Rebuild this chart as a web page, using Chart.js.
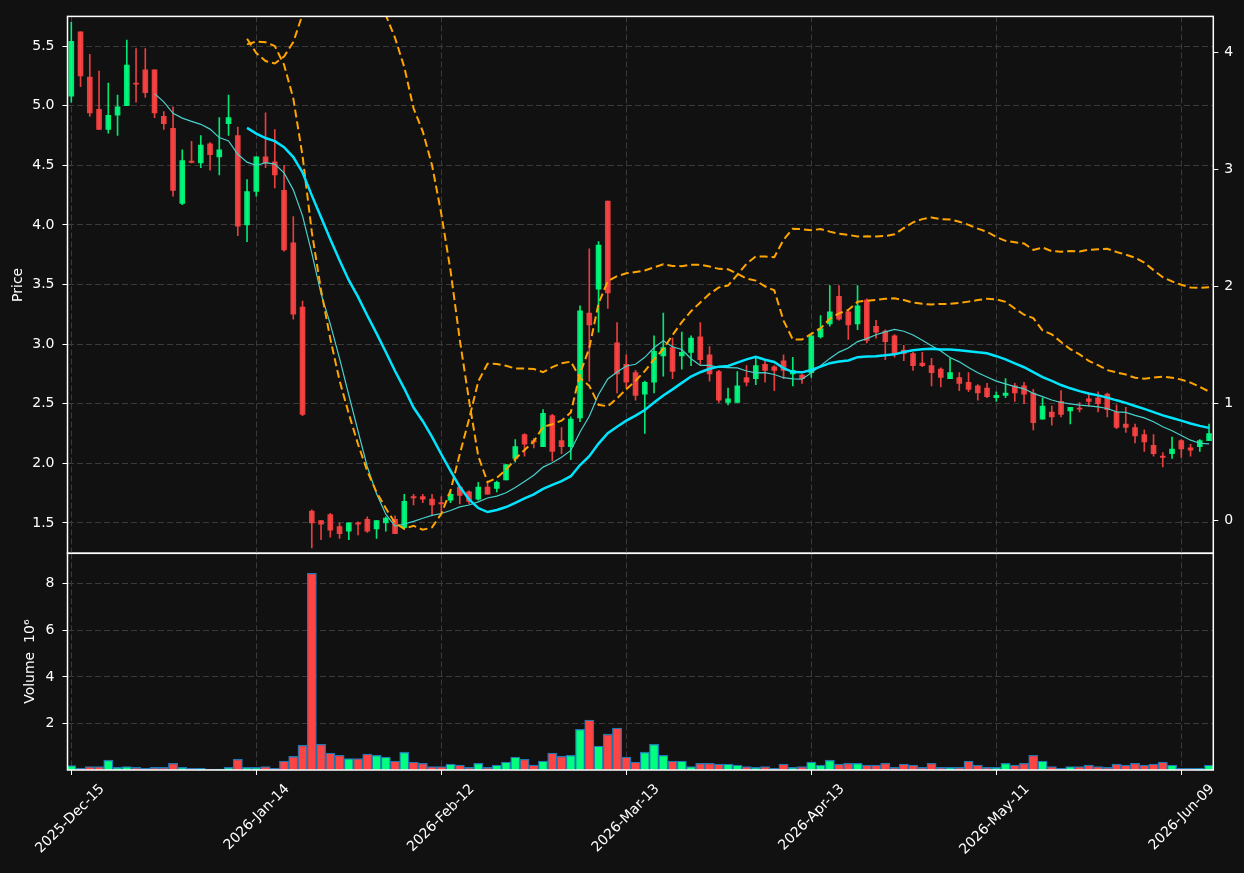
<!DOCTYPE html>
<html>
<head>
<meta charset="utf-8">
<script src="https://cdn.jsdelivr.net/npm/chart.js@4.4.1/dist/chart.umd.min.js"></script>
<style>
  html, body { margin: 0; padding: 0; background: #111111; }
  #wrap { position: relative; width: 1244px; height: 873px; background: #111111; }
  #wrap canvas { position: absolute; left: 0; top: 0; }
</style>
</head>
<body>
<div id="wrap">
  <canvas id="volChart" width="1244" height="873"></canvas>
  <canvas id="priceChart" width="1244" height="873"></canvas>
</div>
<script>
// x tick labels, one every 20 trading days
const tickLabels = ['2025-Dec-15', '2026-Jan-14', '2026-Feb-12', '2026-Mar-13', '2026-Apr-13', '2026-May-11', '2026-Jun-09'];
const priceTicks = [1.5, 2.0, 2.5, 3.0, 3.5, 4.0, 4.5, 5.0, 5.5];
const bandTicks = [0, 1, 2, 3, 4];
const volTicks = [2, 4, 6, 8];

// daily OHLC
const opens = [5.08, 5.62, 5.24, 4.97, 4.80, 4.92, 5.00, 5.19, 5.30, 5.30,
  4.91, 4.81, 4.18, 4.535, 4.52, 4.68, 4.57, 4.85, 4.75, 4.00,
  4.28, 4.57, 4.53, 4.29, 3.85, 3.31, 1.60, 1.52, 1.57, 1.47,
  1.43, 1.50, 1.53, 1.45, 1.50, 1.53, 1.46, 1.72, 1.72, 1.70,
  1.67, 1.69, 1.80, 1.76, 1.70, 1.80, 1.79, 1.86, 2.04, 2.24,
  2.19, 2.14, 2.40, 2.19, 2.14, 2.38, 3.26, 3.46, 4.20, 3.01,
  2.83, 2.76, 2.58, 2.68, 2.90, 2.97, 2.90, 2.93, 3.06, 2.91,
  2.77, 2.51, 2.51, 2.72, 2.71, 2.83, 2.81, 2.86, 2.75, 2.74,
  2.76, 3.06, 3.17, 3.40, 3.27, 3.17, 3.37, 3.15, 3.11, 3.07,
  2.95, 2.92, 2.84, 2.82, 2.79, 2.71, 2.72, 2.68, 2.65, 2.63,
  2.55, 2.57, 2.65, 2.65, 2.59, 2.37, 2.43, 2.52, 2.44, 2.46,
  2.54, 2.55, 2.58, 2.43, 2.33, 2.30, 2.24, 2.15, 2.06, 2.08,
  2.19, 2.13, 2.14, 2.19];
const highs = [5.70, 5.62, 5.43, 5.29, 5.19, 5.09, 5.55, 5.48, 5.48, 5.30,
  4.95, 4.99, 4.63, 4.70, 4.75, 4.69, 4.90, 5.09, 4.82, 4.38,
  4.57, 4.94, 4.80, 4.50, 4.07, 3.36, 1.61, 1.52, 1.58, 1.50,
  1.50, 1.51, 1.55, 1.52, 1.55, 1.56, 1.74, 1.74, 1.74, 1.74,
  1.72, 1.76, 1.81, 1.77, 1.84, 1.84, 1.85, 1.99, 2.20, 2.25,
  2.21, 2.45, 2.41, 2.30, 2.39, 3.32, 3.80, 3.86, 4.20, 3.18,
  2.91, 2.78, 2.69, 3.07, 3.26, 3.05, 3.10, 3.07, 3.18, 2.98,
  2.78, 2.63, 2.77, 2.82, 2.88, 2.86, 2.82, 2.91, 2.89, 2.75,
  3.07, 3.24, 3.49, 3.49, 3.28, 3.49, 3.38, 3.20, 3.12, 3.08,
  2.99, 2.93, 2.93, 2.88, 2.80, 2.88, 2.76, 2.76, 2.66, 2.67,
  2.60, 2.71, 2.67, 2.68, 2.62, 2.55, 2.48, 2.61, 2.47, 2.51,
  2.59, 2.60, 2.59, 2.49, 2.47, 2.33, 2.28, 2.24, 2.09, 2.22,
  2.20, 2.16, 2.20, 2.33];
const lows = [5.03, 5.16, 4.91, 4.80, 4.77, 4.75, 5.00, 5.03, 5.07, 4.90,
  4.80, 4.24, 4.17, 4.52, 4.48, 4.46, 4.42, 4.75, 3.91, 3.86,
  4.24, 4.48, 4.31, 3.78, 3.21, 2.40, 1.29, 1.36, 1.38, 1.37,
  1.36, 1.40, 1.42, 1.37, 1.43, 1.41, 1.45, 1.65, 1.67, 1.57,
  1.59, 1.67, 1.66, 1.66, 1.69, 1.74, 1.76, 1.86, 2.01, 2.06,
  2.13, 2.14, 2.02, 2.08, 2.03, 2.35, 2.69, 3.10, 3.30, 2.59,
  2.63, 2.53, 2.25, 2.59, 2.73, 2.71, 2.79, 2.82, 2.83, 2.69,
  2.51, 2.49, 2.51, 2.65, 2.66, 2.68, 2.61, 2.71, 2.65, 2.67,
  2.72, 3.05, 3.15, 3.20, 3.04, 3.12, 3.01, 3.05, 2.87, 2.89,
  2.86, 2.78, 2.81, 2.65, 2.64, 2.71, 2.61, 2.60, 2.53, 2.55,
  2.52, 2.55, 2.52, 2.50, 2.28, 2.37, 2.32, 2.39, 2.33, 2.43,
  2.48, 2.43, 2.39, 2.29, 2.26, 2.17, 2.10, 2.06, 1.97, 2.04,
  2.05, 2.06, 2.10, 2.19];
const closes = [5.54, 5.25, 4.94, 4.80, 4.92, 4.99, 5.34, 5.18, 5.11, 4.94,
  4.85, 4.29, 4.54, 4.525, 4.67, 4.59, 4.63, 4.90, 3.99, 4.28,
  4.57, 4.52, 4.42, 3.79, 3.25, 2.41, 1.50, 1.49, 1.44, 1.41,
  1.50, 1.49, 1.43, 1.52, 1.54, 1.41, 1.68, 1.71, 1.70, 1.65,
  1.66, 1.74, 1.73, 1.68, 1.80, 1.74, 1.84, 1.99, 2.14, 2.16,
  2.18, 2.42, 2.10, 2.14, 2.37, 3.28, 3.16, 3.83, 3.43, 2.75,
  2.68, 2.57, 2.68, 2.94, 2.97, 2.77, 2.93, 3.05, 2.87, 2.75,
  2.53, 2.54, 2.65, 2.68, 2.82, 2.78, 2.78, 2.78, 2.78, 2.71,
  3.07, 3.13, 3.27, 3.21, 3.16, 3.32, 3.03, 3.10, 3.02, 2.92,
  2.92, 2.82, 2.82, 2.76, 2.72, 2.76, 2.67, 2.62, 2.59, 2.56,
  2.57, 2.59, 2.59, 2.58, 2.34, 2.48, 2.39, 2.41, 2.47, 2.455,
  2.52, 2.50, 2.45, 2.30, 2.30, 2.23, 2.18, 2.08, 2.05, 2.12,
  2.12, 2.11, 2.19, 2.25];
// volume in millions
const volumes = [0.22, 0.11, 0.18, 0.18, 0.45, 0.14, 0.18, 0.14, 0.10, 0.14,
  0.14, 0.32, 0.14, 0.10, 0.10, 0.07, 0.07, 0.14, 0.49, 0.14,
  0.14, 0.18, 0.10, 0.41, 0.61, 1.09, 8.43, 1.13, 0.75, 0.66,
  0.52, 0.52, 0.71, 0.66, 0.58, 0.41, 0.79, 0.37, 0.32, 0.18,
  0.18, 0.28, 0.24, 0.14, 0.32, 0.14, 0.24, 0.37, 0.58, 0.49,
  0.24, 0.41, 0.75, 0.62, 0.66, 1.77, 2.16, 1.05, 1.56, 1.82,
  0.58, 0.37, 0.79, 1.13, 0.66, 0.41, 0.41, 0.18, 0.32, 0.32,
  0.28, 0.28, 0.24, 0.18, 0.14, 0.18, 0.10, 0.28, 0.14, 0.18,
  0.37, 0.24, 0.45, 0.28, 0.32, 0.32, 0.24, 0.24, 0.32, 0.14,
  0.28, 0.24, 0.14, 0.32, 0.14, 0.14, 0.14, 0.41, 0.24, 0.14,
  0.14, 0.32, 0.24, 0.32, 0.66, 0.41, 0.18, 0.10, 0.18, 0.18,
  0.24, 0.18, 0.14, 0.28, 0.24, 0.32, 0.24, 0.28, 0.37, 0.24,
  0.10, 0.10, 0.10, 0.24];

// moving averages and bollinger bands from the closes
const mean = a => a.reduce((s, v) => s + v, 0) / a.length;
const std = a => { const m = mean(a); return Math.sqrt(a.reduce((s, v) => s + (v - m) * (v - m), 0) / a.length); };
const rolling = (arr, n, fn) => arr.map((_, i) => i < n - 1 ? null : fn(arr.slice(i - n + 1, i + 1)));
const ma10 = rolling(closes, 10, mean);
const ma20 = rolling(closes, 20, mean);
const sd20 = rolling(closes, 20, std);
const bandUpper = ma20.map((m, i) => m === null ? null : m + 2 * sd20[i]);
const bandLower = ma20.map((m, i) => m === null ? null : m - 2 * sd20[i]);

const isUp = closes.map((c, i) => c >= opens[i]);
const candleColors = isUp.map(u => u ? 'rgba(0,255,127,0.9)' : 'rgba(255,68,68,0.9)');
const volColors = isUp.map(u => u ? '#00ff7f' : '#ff4444');
const pts = arr => arr.map((v, i) => ({ x: i, y: v }));

Chart.defaults.font.family = "'DejaVu Sans', sans-serif";
Chart.defaults.font.size = 14;
Chart.defaults.color = '#ffffff';

const gridColor = '#3a3a3a';
const xMin = -0.41, xMax = 123.46;

const frame = {
  id: 'frame',
  afterDraw(chart) {
    const { ctx, chartArea: a } = chart;
    ctx.save();
    ctx.strokeStyle = '#ffffff';
    ctx.lineWidth = 1.5;
    ctx.strokeRect(a.left, a.top, a.right - a.left, a.bottom - a.top);
    ctx.restore();
  }
};

const xTicks = s => { s.ticks = tickLabels.map((_, k) => ({ value: k * 20 })); };

new Chart(document.getElementById('priceChart'), {
  type: 'bar',
  data: {
    datasets: [
      { type: 'line', label: 'MA10', data: pts(ma10), borderColor: '#48d1cc', borderWidth: 1.2, pointRadius: 0, order: 1 },
      { type: 'line', label: 'MA20', data: pts(ma20), borderColor: '#00e5ff', borderWidth: 2.5, pointRadius: 0, order: 0 },
      { type: 'line', label: 'Upper', data: pts(bandUpper), borderColor: '#ffa500', borderWidth: 2, borderDash: [8, 4], pointRadius: 0, order: 0 },
      { type: 'line', label: 'Lower', data: pts(bandLower), yAxisID: 'y2', borderColor: '#ffa500', borderWidth: 2, borderDash: [8, 4], pointRadius: 0, order: 0 },
      { label: 'Wick', data: closes.map((_, i) => ({ x: i, y: [lows[i], highs[i]] })), backgroundColor: candleColors, barThickness: 1, grouped: false, order: 3 },
      { label: 'Body', data: closes.map((_, i) => ({ x: i, y: [opens[i], closes[i]] })), backgroundColor: candleColors, barThickness: 5, minBarLength: 1, grouped: false, order: 2 }
    ]
  },
  options: {
    responsive: false,
    animation: false,
    layout: { padding: { top: 10.3, bottom: 873 - 553.3, left: 0, right: 0 } },
    plugins: { legend: { display: false }, tooltip: { enabled: false } },
    scales: {
      x: {
        type: 'linear', min: xMin, max: xMax, offset: false,
        afterBuildTicks: xTicks,
        afterFit: s => { s.height = 0; },
        ticks: { display: false },
        grid: { color: gridColor, drawTicks: false, offset: false },
        border: { display: false, dash: [6, 3] }
      },
      y: {
        position: 'left', min: 1.245, max: 5.749,
        afterBuildTicks: s => { s.ticks = priceTicks.map(v => ({ value: v })); },
        afterFit: s => { s.width = 67.5; },
        ticks: { padding: 8, callback: v => v.toFixed(1) },
        grid: { color: gridColor, tickColor: '#ffffff', tickLength: 5, tickBorderDash: [], tickWidth: 1 },
        border: { display: false, dash: [6, 3] },
        title: { display: true, text: 'Price', padding: 9.6 }
      },
      y2: {
        position: 'right', min: -0.278, max: 4.304,
        afterBuildTicks: s => { s.ticks = bandTicks.map(v => ({ value: v })); },
        afterFit: s => { s.width = 1244 - 1213.3; },
        ticks: { padding: 6, callback: v => String(v) },
        grid: { drawOnChartArea: false, tickColor: '#ffffff', tickLength: 5, tickWidth: 1 },
        border: { display: false }
      }
    }
  },
  plugins: [frame]
});

new Chart(document.getElementById('volChart'), {
  type: 'bar',
  data: {
    datasets: [
      { label: 'Volume', data: pts(volumes), backgroundColor: volColors, borderColor: '#1f77b4', borderWidth: 1.3, barPercentage: 1, categoryPercentage: 1 }
    ]
  },
  options: {
    responsive: false,
    animation: false,
    layout: { padding: { top: 553.3, bottom: 0, left: 0, right: 1244 - 1213.3 } },
    plugins: { legend: { display: false }, tooltip: { enabled: false } },
    scales: {
      x: {
        type: 'linear', min: xMin, max: xMax, offset: false,
        afterBuildTicks: xTicks,
        afterFit: s => { s.height = 873 - 770; },
        ticks: { autoSkip: false, maxRotation: 45, minRotation: 45, padding: 6, labelOffset: 31,
          callback: v => tickLabels[Math.round(v / 20)] },
        grid: { color: gridColor, tickColor: '#ffffff', tickLength: 5, tickBorderDash: [], tickWidth: 1, offset: false },
        border: { display: false, dash: [6, 3] }
      },
      y: {
        position: 'left', min: 0.03, max: 9.28,
        afterBuildTicks: s => { s.ticks = volTicks.map(v => ({ value: v })); },
        afterFit: s => { s.width = 67.5; },
        ticks: { padding: 8, callback: v => String(v) },
        grid: { color: gridColor, tickColor: '#ffffff', tickLength: 5, tickBorderDash: [], tickWidth: 1 },
        border: { display: false, dash: [6, 3] },
        title: { display: true, text: 'Volume  10\u2076', padding: 21.6 }
      }
    }
  },
  plugins: [frame]
});
</script>
</body>
</html>
